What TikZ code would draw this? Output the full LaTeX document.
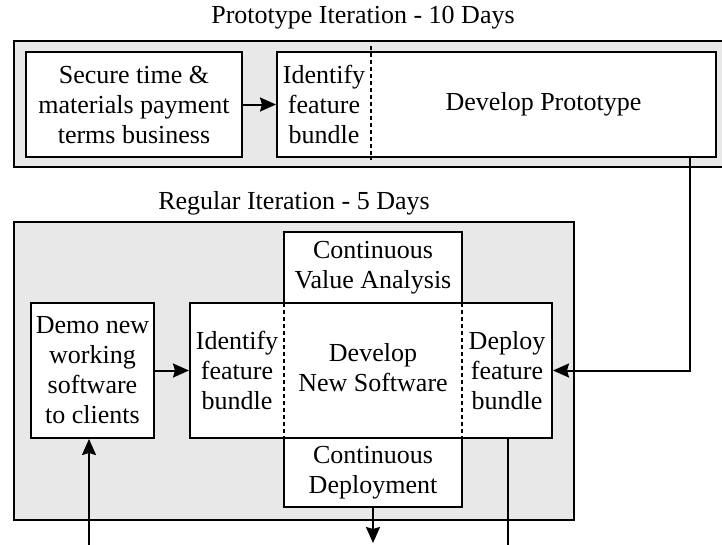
\documentclass[tikz,border=0pt]{standalone}
\usepackage{fontspec}
\setmainfont{Liberation Serif}
\usetikzlibrary{arrows.meta}
\definecolor{framegray}{HTML}{E8E8E8}
\begin{document}
\begin{tikzpicture}[x=1pt,y=-1pt,
  font=\fontsize{26}{30}\selectfont,
  frame/.style={draw, line width=2.4pt, fill=framegray, inner sep=0pt},
  box/.style={draw, line width=2pt, fill=white, align=center, inner sep=0pt},
  txt/.style={align=center, inner sep=0pt},
  conn/.style={line width=2pt},
  arr/.style={conn, -{Stealth[length=16pt,width=14pt,inset=2pt]}},
  sepline/.style={line width=1.6pt, dash pattern=on 4pt off 3pt}]

\useasboundingbox (0,0) rectangle (722,544);

% ---------- Prototype iteration ----------
\node[txt] (ptitle) at (363,18) {Prototype Iteration - 10 Days};
\node[frame, minimum width=728pt, minimum height=126pt] (pframe) at (378,104) {};
\node[box, minimum width=216pt, minimum height=105pt] (secure) at (134,104.5)
  {Secure time \&\\materials payment\\terms business};
\node[box, minimum width=439pt, minimum height=105pt] (proto) at (496.5,104.5) {};
\node[txt] (pident) at (324,104.5) {Identify\\feature\\bundle};
\node[txt] (pdev) at (543.5,104.5) {Develop Prototype};
\coordinate (pdashtop) at (371,46);
\coordinate (pdashbot) at (371,160);
\draw[sepline] (pdashtop) -- (pdashbot);

\draw[arr] (secure) -- (proto);

% ---------- Regular iteration ----------
\node[txt] (rtitle) at (294,203) {Regular Iteration - 5 Days};
\node[frame, minimum width=560pt, minimum height=298pt] (rframe) at (294,371) {};
\node[box, minimum width=178pt, minimum height=71pt] (cva) at (373,267.5)
  {Continuous\\Value Analysis};
\node[box, minimum width=178pt, minimum height=69pt] (cd) at (373,472.5)
  {Continuous\\Deployment};
\node[box, minimum width=362pt, minimum height=135pt] (main) at (371,370.5) {};
\node[txt] (rident) at (237,370.5) {Identify\\feature\\bundle};
\node[txt] (rdev) at (373,368) {Develop\\New Software};
\node[txt] (rdep) at (507,370.5) {Deploy\\feature\\bundle};
\coordinate (d1t) at (284,303);
\coordinate (d1b) at (284,438);
\coordinate (d2t) at (462,303);
\coordinate (d2b) at (462,438);
\draw[sepline] (d1t) -- (d1b);
\draw[sepline] (d2t) -- (d2b);

\node[box, minimum width=123pt, minimum height=135pt] (demo) at (92.5,370.5)
  {Demo new\\working\\software\\to clients};

% ---------- connectors ----------
\draw[arr] (demo) -- (main);
\draw[arr] ([xshift=193.5pt]proto.south) |- (main.east);

\coordinate (cdend) at (373,543);
\draw[arr] (cd.south) -- (cdend);

\coordinate (loopright) at (508,546.3);
\draw[arr] ([xshift=137pt]main.south) -- (loopright) -| ([xshift=-3.5pt]demo.south);
\end{tikzpicture}
\end{document}
